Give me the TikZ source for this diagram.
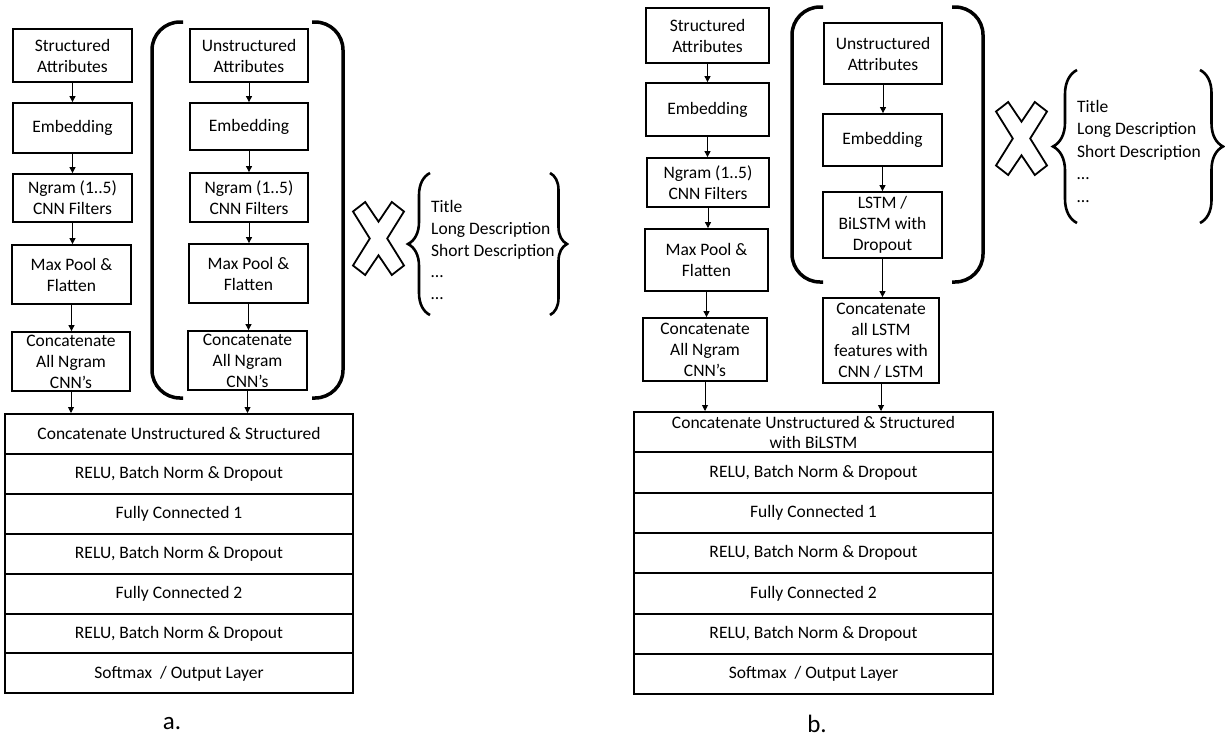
\documentclass[tikz,border=0pt]{standalone}
\usepackage{fontspec}
\setmainfont{Carlito}
\usetikzlibrary{arrows.meta,decorations.pathreplacing}
\tikzset{
  blk/.style={draw=black,line width=1.8pt,align=center,inner sep=0pt,font=\fontsize{17.5}{21}\selectfont},
  row/.style={blk,line width=2pt},
  flow/.style={-{Triangle[length=6pt,width=6pt]},line width=0.9pt},
  paren/.style={line width=3.5pt,rounded corners=28pt},
  curly/.style={decorate,line width=2.6pt,decoration={brace,amplitude=#1}},
  xcross/.pic={
    \draw[line width=1.8pt,line join=miter]
      (0,9.5) -- (12.2,0) -- (25.5,19.7) -- (38.8,0) -- (51,9.5) -- (34.2,36.5)
      -- (51,63.5) -- (38.8,73) -- (25.5,53.3) -- (12.2,73) -- (0,63.5) -- (16.8,36.5) -- cycle;
  }
}
\begin{document}
\begin{tikzpicture}[x=1pt,y=-1pt]
      \useasboundingbox (0,0) rectangle (1225,740);
      % a. structured column
      \draw
        (72.5,55.5) node[blk,minimum width=119pt,minimum height=53pt] (sa1){Structured\\Attributes}
        (72.5,128) node[blk,minimum width=119pt,minimum height=50pt] (sa2){Embedding}
        (72.5,198) node[blk,minimum width=119pt,minimum height=48pt] (sa3){Ngram (1..5)\\CNN Filters}
        (71.5,274.5) node[blk,minimum width=119pt,minimum height=59pt] (sa4){Max Pool \&\\Flatten}
        (71,361.5) node[blk,minimum width=118pt,minimum height=59pt] (sa5){Concatenate\\All Ngram\\CNN’s};
      % a. unstructured column
      \draw
        (249,55.5) node[blk,minimum width=118pt,minimum height=53pt] (ua1){Unstructured\\Attributes}
        (249,126.5) node[blk,minimum width=118pt,minimum height=47pt] (ua2){Embedding}
        (249,197.5) node[blk,minimum width=118pt,minimum height=49pt] (ua3){Ngram (1..5)\\CNN Filters}
        (248.5,273.5) node[blk,minimum width=119pt,minimum height=59pt] (ua4){Max Pool \&\\Flatten}
        (247.5,360.5) node[blk,minimum width=119pt,minimum height=59pt] (ua5){Concatenate\\All Ngram\\CNN’s};
      % a. dense stack
      \draw
        (179,433.95) node[row,minimum width=348pt,minimum height=39.9pt] (ra1){Concatenate Unstructured \& Structured}
        (179,473.85) node[row,minimum width=348pt,minimum height=39.9pt] (ra2){RELU, Batch Norm \& Dropout}
        (179,513.75) node[row,minimum width=348pt,minimum height=39.9pt] (ra3){Fully Connected 1}
        (179,553.65) node[row,minimum width=348pt,minimum height=39.9pt] (ra4){RELU, Batch Norm \& Dropout}
        (179,593.55) node[row,minimum width=348pt,minimum height=39.9pt] (ra5){Fully Connected 2}
        (179,633.45) node[row,minimum width=348pt,minimum height=39.9pt] (ra6){RELU, Batch Norm \& Dropout}
        (179,673.35) node[row,minimum width=348pt,minimum height=39.9pt] (ra7){Softmax~ / Output Layer}
        (172,724) node[font=\fontsize{25}{30}\selectfont] (capa){a.};
      \begin{scope}[flow]
        \draw (sa1.south) -- (sa1.south |- sa2.north);
        \draw (sa2.south) -- (sa2.south |- sa3.north);
        \draw (sa3.south) -- (sa3.south |- sa4.north);
        \draw (sa4.south) -- (sa4.south |- sa5.north);
        \draw (sa5.south) -- (sa5.south |- ra1.north);
        \draw (ua1.south) -- (ua1.south |- ua2.north);
        \draw (ua2.south) -- (ua2.south |- ua3.north);
        \draw (ua3.south) -- (ua3.south |- ua4.north);
        \draw (ua4.south) -- (ua4.south |- ua5.north);
        \draw (ua5.south) -- (ua5.south |- ra1.north);
      \end{scope}
      \draw[paren] (183,22) -- (152,22) -- (152,398) -- (183,398);
      \draw[paren] (312,22) -- (343,22) -- (343,398) -- (312,398);
      \pic at (353,202) {xcross};
      \draw[curly=22pt] (430,315) -- (430,173);
      \draw[curly=17pt] (550,173) -- (550,315);
      \node[anchor=west,align=left,inner sep=0pt,font=\fontsize{17.5}{21.7}\selectfont] (fa) at (431,250)
        {Title\\Long Description\\Short Description\\…\\…};
      % b. structured column
      \draw
        (707.5,35.5) node[blk,minimum width=123pt,minimum height=55pt] (sb1){Structured\\Attributes}
        (707.5,109.5) node[blk,minimum width=123pt,minimum height=53pt] (sb2){Embedding}
        (708,182.5) node[blk,minimum width=122pt,minimum height=49pt] (sb3){Ngram (1..5)\\CNN Filters}
        (706.5,260) node[blk,minimum width=123pt,minimum height=62pt] (sb4){Max Pool \&\\Flatten}
        (705,349.5) node[blk,minimum width=124pt,minimum height=63pt] (sb5){Concatenate\\All Ngram\\CNN’s};
      % b. unstructured column
      \draw
        (883,53.5) node[blk,minimum width=118pt,minimum height=61pt] (ub1){Unstructured\\Attributes}
        (882.5,140) node[blk,minimum width=119pt,minimum height=52pt] (ub2){Embedding}
        (882.5,225) node[blk,minimum width=119pt,minimum height=66pt] (ub3){LSTM /\\BiLSTM with\\Dropout}
        (881,340.5) node[blk,minimum width=116pt,minimum height=85pt] (ub4){Concatenate\\all LSTM\\features with\\CNN / LSTM};
      % b. dense stack
      \draw
        (813.5,432.15) node[row,minimum width=359pt,minimum height=40.3pt,font=\fontsize{17.5}{20}\selectfont] (rb1){Concatenate Unstructured \& Structured\\with BiLSTM}
        (813.5,472.45) node[row,minimum width=359pt,minimum height=40.3pt] (rb2){RELU, Batch Norm \& Dropout}
        (813.5,512.75) node[row,minimum width=359pt,minimum height=40.3pt] (rb3){Fully Connected 1}
        (813.5,553.05) node[row,minimum width=359pt,minimum height=40.3pt] (rb4){RELU, Batch Norm \& Dropout}
        (813.5,593.35) node[row,minimum width=359pt,minimum height=40.3pt] (rb5){Fully Connected 2}
        (813.5,633.65) node[row,minimum width=359pt,minimum height=40.3pt] (rb6){RELU, Batch Norm \& Dropout}
        (813.5,673.95) node[row,minimum width=359pt,minimum height=40.3pt] (rb7){Softmax~ / Output Layer}
        (817,724) node[font=\fontsize{25}{30}\selectfont] (capb){b.};
      \begin{scope}[flow]
        \draw (sb1.south) -- (sb1.south |- sb2.north);
        \draw (sb2.south) -- (sb2.south |- sb3.north);
        \draw (sb3.south) -- (sb3.south |- sb4.north);
        \draw (sb4.south) -- (sb4.south |- sb5.north);
        \draw (sb5.south) -- (sb5.south |- rb1.north);
        \draw (ub1.south) -- (ub1.south |- ub2.north);
        \draw (ub2.south) -- (ub2.south |- ub3.north);
        \draw (ub3.south) -- (ub3.south |- ub4.north);
        \draw (ub4.south) -- (ub4.south |- rb1.north);
      \end{scope}
      \draw[paren] (823,7) -- (792,7) -- (792,282) -- (823,282);
      \draw[paren] (952,7) -- (983,7) -- (983,282) -- (952,282);
      \pic at (996,102) {xcross};
      \draw[curly=24pt] (1077,223) -- (1077,70);
      \draw[curly=23pt] (1200,70) -- (1200,223);
      \node[anchor=west,align=left,inner sep=0pt,font=\fontsize{17.5}{22.5}\selectfont] (fb) at (1077,151)
        {Title\\Long Description\\Short Description\\…\\…};
    \end{tikzpicture}
\end{document}
